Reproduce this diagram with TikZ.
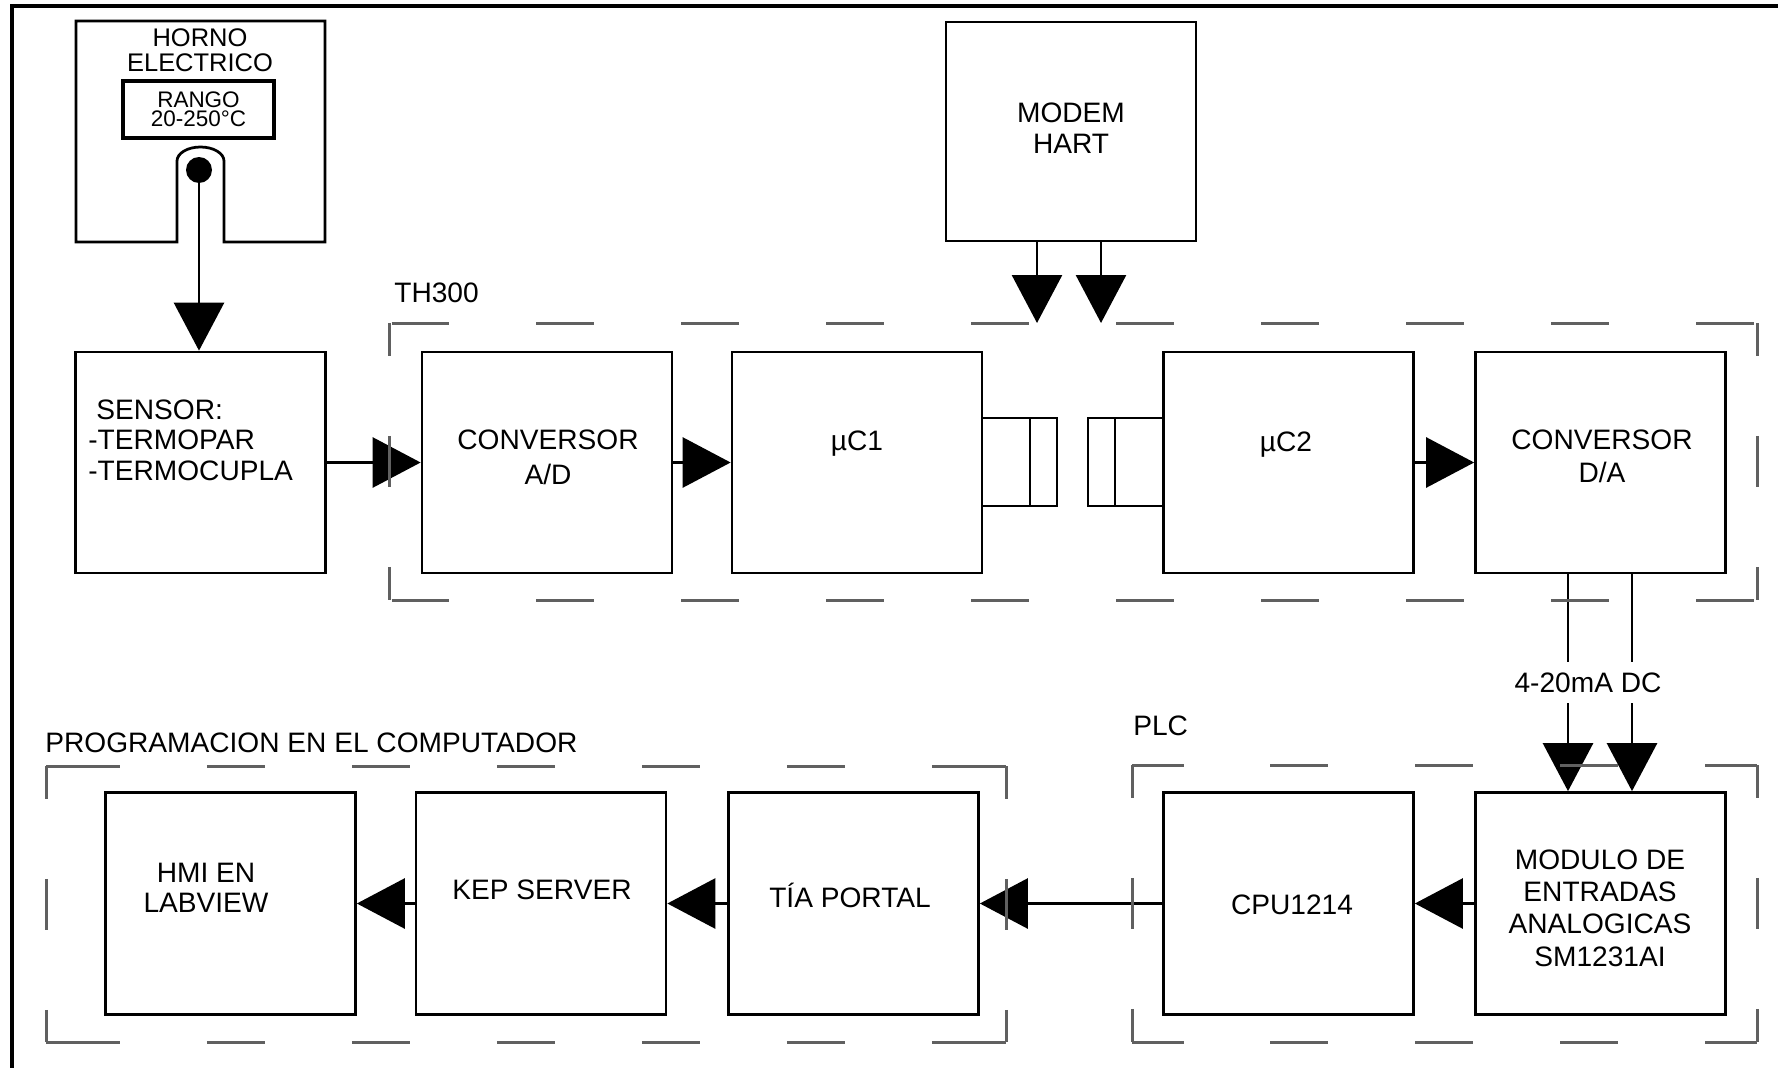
\documentclass[tikz,border=0pt]{standalone}
\usepackage{fontspec}
\setmainfont{Liberation Sans}
\usetikzlibrary{arrows.meta}
\definecolor{grpgrey}{RGB}{96,96,96}

\begin{document}
\begin{tikzpicture}[
        x=0.02cm, y=-0.02cm,
        blk/.style={draw, line width=0.055cm, inner sep=0pt, minimum width=5cm, minimum height=4.44cm},
        txt/.style={inner sep=0pt, align=center, font=\fontsize{16}{#1}\selectfont},
        txt/.default=18,
        arr/.style={line width=0.055cm, -{Triangle[width=1cm, length=0.96cm]}},
        grp/.style={draw=grpgrey, line width=0.06cm},
        hdash/.style={grp, dash pattern=on 1.16cm off 1.74cm},
        vdash/.style={grp, dash pattern=on 1.02cm off 1.6cm, dash phase=0.36cm}
    ]
    \useasboundingbox (0,0) rectangle (1778,1068);
    \draw[line width=0.08cm] (12,1068) -- (12,6) -- (1778,6);

    % horno
    \draw[line width=0.055cm] (177,242) -- (76,242) -- (76,21) -- (325,21) -- (325,242) -- (224,242) -- (224,161)
        arc[start angle=0, end angle=-180, x radius=23.5, y radius=14] -- cycle;
    \node[txt, font=\fontsize{14.5}{14}\selectfont] at (200,50) {HORNO\\ELECTRICO};
    \node[draw, line width=0.08cm, minimum width=3.02cm, minimum height=1.14cm, inner sep=0pt, align=center,
        font=\fontsize{12.8}{10.8}\selectfont] (rango) at (198.5,109.5) {RANGO\\20-250°C};
    \node[circle, fill, inner sep=0pt, minimum size=0.52cm] (dot) at (199,170) {};

    \node[blk, minimum height=4.42cm] (sensor) at (200.5,462.5) {};
    \node[blk, minimum height=4.42cm] (convad) at (547,462.5) {};
    \node[blk, minimum height=4.42cm] (mc1) at (857,462.5) {};
    \node[blk, minimum height=4.42cm] (mc2) at (1288.5,462.5) {};
    \node[blk, minimum height=4.42cm] (convda) at (1600.5,462.5) {};
    \node[blk, minimum height=4.38cm] (modem) at (1071,131.5) {};
    \node[blk] (modulo) at (1600.5,903.5) {};
    \node[blk] (cpu) at (1288.5,903.5) {};
    \node[blk] (tia) at (853.5,903.5) {};
    \node[blk] (kep) at (541,903.5) {};
    \node[blk] (hmi) at (230.5,903.5) {};

    \node[txt=17.4, anchor=west, align=left] at (88,440) {\hspace{0.16cm}SENSOR:\\-TERMOPAR\\-TERMOCUPLA};
    \node[txt=19.9] at (548,457.5) {CONVERSOR\\A/D};
    \node[txt] at (857,444) {µC1};
    \node[txt] at (1286,445) {µC2};
    \node[txt=18.8] at (1602,456.5) {CONVERSOR\\D/A};
    \node[txt=17.6] at (1071,128.5) {MODEM\\HART};
    \node[txt=18.4] at (1600,908) {MODULO DE\\ENTRADAS\\ANALOGICAS\\SM1231AI};
    \node[txt] at (1292,905) {CPU1214};
    \node[txt] at (850,895) {TÍA PORTAL};
    \node[txt] at (542,890) {KEP SERVER};
    \node[txt=17] at (206,888) {HMI EN\\LABVIEW};

    \node[txt, anchor=west] at (394,293) {TH300};
    \node[txt, anchor=west] at (1133,726) {PLC};
    \node[txt, anchor=west] at (45,743) {PROGRAMACION EN EL COMPUTADOR};
    \node[txt, minimum height=0.82cm] (ma) at (1588,682.5) {4-20mA DC};

    % enlace uC1 - uC2
    \draw[line width=0.055cm] (982,418) rectangle (1057,506) (1030,418) -- (1030,506)
        (1088,418) rectangle (1163,506) (1115,418) -- (1115,506);

    \draw[arr] (dot) -- (dot |- sensor.north);
    \draw[arr] (sensor) -- (convad);
    \draw[arr] (convad) -- (mc1);
    \draw[arr] (mc2) -- (convda);
    \draw[arr] (modulo) -- (cpu);
    \draw[arr] (cpu) -- (tia);
    \draw[arr] (tia) -- (kep);
    \draw[arr] (kep) -- (hmi);

    \coordinate (hart1) at (1037,323);
    \coordinate (hart2) at (1101,323);
    \draw[arr] (modem.south -| hart1) -- (hart1);
    \draw[arr] (modem.south -| hart2) -- (hart2);

    \coordinate (out1) at (1568,0);
    \coordinate (out2) at (1632,0);
    \draw[line width=0.055cm] (convda.south -| out1) -- (ma.north -| out1) (convda.south -| out2) -- (ma.north -| out2);
    \draw[arr] (ma.south -| out1) -- (modulo.north -| out1);
    \draw[arr] (ma.south -| out2) -- (modulo.north -| out2);

    % grupos
    \draw[hdash, dash phase=2.85cm] (389,323) -- (1757,323) (389,600) -- (1757,600);
    \draw[vdash] (389,323) -- (389,600) (1757,323) -- (1757,600);
    \draw[hdash, dash phase=0.13cm] (1132,765) -- (1757,765) (1132,1042) -- (1757,1042);
    \draw[vdash] (1132,765) -- (1132,1042) (1757,765) -- (1757,1042);
    \draw[grp, dash pattern=on 1.48cm off 1.74cm on 1.16cm off 1.74cm on 1.16cm off 1.74cm on 1.16cm off 1.74cm
        on 1.16cm off 1.74cm on 1.16cm off 1.74cm on 1.48cm off 2cm] (46,766) -- (1006,766) (46,1042) -- (1006,1042);
    \draw[vdash] (46,766) -- (46,1042) (1006,766) -- (1006,1042);
\end{tikzpicture}
\end{document}
